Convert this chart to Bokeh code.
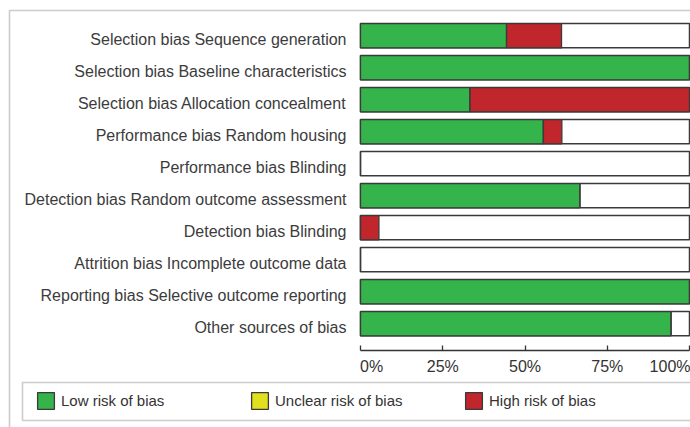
from bokeh.plotting import figure
from bokeh.models import Range1d, FixedTicker, BoxAnnotation, Legend, LegendItem
from bokeh.embed import file_html
from bokeh.resources import INLINE

# ---- data ----
domains = [
    "Selection bias Sequence generation",
    "Selection bias Baseline characteristics",
    "Selection bias Allocation concealment",
    "Performance bias Random housing",
    "Performance bias Blinding",
    "Detection bias Random outcome assessment",
    "Detection bias Blinding",
    "Attrition bias Incomplete outcome data",
    "Reporting bias Selective outcome reporting",
    "Other sources of bias",
]
low_pct = [44.4, 100.0, 33.3, 55.6, 0.0, 66.7, 0.0, 0.0, 100.0, 94.4]
unclear_pct = [0.0, 0.0, 0.0, 0.0, 0.0, 0.0, 0.0, 0.0, 0.0, 0.0]
high_pct = [16.7, 0.0, 66.7, 5.6, 0.0, 0.0, 5.6, 0.0, 0.0, 0.0]
x_ticks = [0, 25, 50, 75, 100]
x_tick_labels = ["0%", "25%", "50%", "75%", "100%"]
legend_labels = ["Low risk of bias", "Unclear risk of bias", "High risk of bias"]
colors = ["#35b44b", "#e0e01e", "#c1262d"]

# ---- layout ----
NB = "\u00a0"
FONT = "Liberation Sans"
EDGE = "#3a3a3a"
W, H = 690, 427
PX_X = 3.29    # pixels per percent
PX_Y = 32.0    # pixels per row

n = len(domains)
row_pos = list(range(1, n + 1))
bar_pos = [r - 0.125 for r in row_pos]

p = figure(
    width=W, height=H,
    x_range=Range1d(-360 / PX_X, (W - 360) / PX_X),
    y_range=Range1d(0.875 + (H - 35.2) / PX_Y, 0.875 - 35.2 / PX_Y),
    output_backend="svg", toolbar_location=None, title=None,
    min_border=0, min_border_left=0, min_border_right=0,
    min_border_top=0, min_border_bottom=0,
)
p.outline_line_color = None
p.xgrid.visible = False
p.ygrid.visible = False
p.background_fill_color = "white"
p.border_fill_color = "white"

# background (empty) bars
p.hbar(y=bar_pos, left=0, right=100, height=0.76,
       fill_color="white", line_color=EDGE, line_width=1.5)

# stacked segments: low, unclear, high
low_left = [0.0] * n
unc_left = [lo for lo in low_pct]
unc_right = [lo + un for lo, un in zip(low_pct, unclear_pct)]
high_left = unc_right
high_right = [ul + hi for ul, hi in zip(unc_right, high_pct)]

lo_idx = [i for i in range(n) if low_pct[i] > 0]
hi_idx = [i for i in range(n) if high_pct[i] > 0]

r_low = p.hbar(y=[bar_pos[i] for i in lo_idx], left=[low_left[i] for i in lo_idx],
               right=[low_pct[i] for i in lo_idx], height=0.76,
               fill_color=colors[0], line_color=EDGE, line_width=1.3)
r_unc = p.hbar(y=bar_pos, left=unc_left, right=unc_right, height=0.76,
               fill_color=colors[1], line_color=EDGE, line_width=1.3)
r_high = p.hbar(y=[bar_pos[i] for i in hi_idx], left=[high_left[i] for i in hi_idx],
                right=[high_right[i] for i in hi_idx], height=0.76,
                fill_color=colors[2], line_color=EDGE, line_width=1.3)

# y axis (category labels) fixed at x = 0
ya = p.yaxis[0]
ya.fixed_location = 0
ya.ticker = FixedTicker(ticks=row_pos)
ya.major_label_overrides = {r: d for r, d in zip(row_pos, domains)}
ya.axis_line_color = None
ya.major_tick_line_color = None
ya.minor_tick_line_color = None
ya.major_tick_in = 0
ya.major_tick_out = 0
ya.major_label_standoff = 14
ya.major_label_text_font = FONT
ya.major_label_text_font_size = "16px"
ya.major_label_text_color = "#3c3c3c"

# x axis (percent) fixed just below the last bar
xa = p.xaxis[0]
xa.fixed_location = 0.875 + (350 - 35.2) / PX_Y
xa.bounds = (x_ticks[0], x_ticks[-1])
xa.ticker = FixedTicker(ticks=x_ticks)
overrides = {}
for t, lab in zip(x_ticks, x_tick_labels):
    if t == x_ticks[0]:
        lab = NB * 5 + lab
    overrides[t] = lab
xa.major_label_overrides = overrides
xa.axis_line_color = "#333333"
xa.axis_line_width = 1.3
xa.major_tick_line_color = "#333333"
xa.major_tick_line_width = 1.3
xa.major_tick_in = 5
xa.major_tick_out = 0
xa.minor_tick_line_color = None
xa.major_label_standoff = 7
xa.major_label_text_font = FONT
xa.major_label_text_font_size = "16px"
xa.major_label_text_color = "#333333"

# outer frame and legend box
p.add_layout(BoxAnnotation(left=9, right=3000, top=10, bottom=3000,
                           left_units="canvas", right_units="canvas",
                           top_units="canvas", bottom_units="canvas",
                           fill_alpha=0, line_color="#555555", line_width=1.6))
p.add_layout(BoxAnnotation(left=22, right=3000, top=382, bottom=420,
                           left_units="canvas", right_units="canvas",
                           top_units="canvas", bottom_units="canvas",
                           fill_alpha=0, line_color="#555555", line_width=1.6))

legend = Legend(
    items=[LegendItem(label=legend_labels[0], renderers=[r_low]),
           LegendItem(label=legend_labels[1], renderers=[r_unc]),
           LegendItem(label=legend_labels[2], renderers=[r_high])],
    orientation="horizontal", location=(35, H - 411),
    glyph_width=21, glyph_height=21, label_standoff=5, label_width=188,
    spacing=0, padding=0, margin=0,
    border_line_alpha=0, background_fill_alpha=0,
    label_text_font=FONT, label_text_font_size="15px",
    label_text_color="#333333",
)
p.add_layout(legend)

open("out.html", "w").write(file_html(p, INLINE))
